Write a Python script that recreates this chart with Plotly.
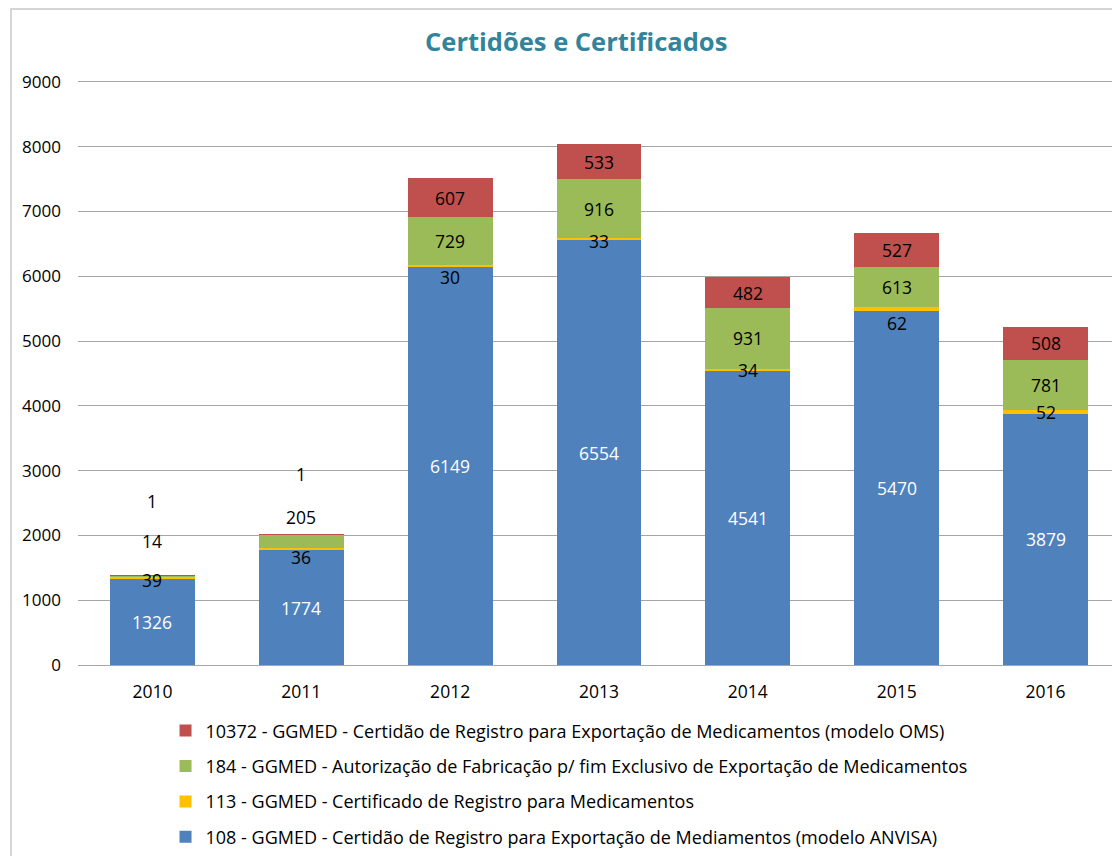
import plotly.graph_objects as go
import numpy as np

# Dados do gráfico
anos = ['2010', '2011', '2012', '2013', '2014', '2015', '2016']
anvisa_108 = [1326, 1774, 6149, 6554, 4541, 5470, 3879]
certificado_113 = [39, 36, 30, 33, 34, 62, 52]
autorizacao_184 = [14, 205, 729, 916, 931, 613, 781]
oms_10372 = [1, 1, 607, 533, 482, 527, 508]

nomes = [
    '108 - GGMED - Certidão de Registro para Exportação de Mediamentos (modelo ANVISA)',
    '113 - GGMED - Certificado de Registro para Medicamentos',
    '184 - GGMED - Autorização de Fabricação p/ fim Exclusivo de Exportação de Medicamentos',
    '10372 - GGMED - Certidão de Registro para Exportação de Medicamentos (modelo OMS)',
]
cores = ['#4F81BD', '#FFC000', '#9BBB59', '#C0504D']
cores_texto = ['white', 'black', 'black', 'black']
# deslocamento vertical (px) dos rótulos, como no original
deslocamentos = [
    [0, 0, 0, 0, 0, 0, 0],
    [-2, -8, -11, -2, 0, -14, 0],
    [35, 24, 0, 0, 0, 0, 0],
    [75, 60, 0, 0, 0, 0, 0],
]

series = [anvisa_108, certificado_113, autorizacao_184, oms_10372]
fonte = 'Open Sans'

fig = go.Figure()
base = np.zeros(len(anos))
anotacoes = []
for i, valores in enumerate(series):
    valores = np.array(valores)
    fig.add_trace(go.Bar(
        x=anos,
        y=valores,
        name=nomes[i],
        marker=dict(color=cores[i], line=dict(width=0)),
        legendgroup='g%d' % i,
        legendrank=len(series) - i,
        hoverinfo='skip'
    ))
    centros = base + valores / 2
    for j in range(len(anos)):
        # índice da categoria (um texto "2010" seria lido como número)
        anotacoes.append(dict(
            x=j, y=centros[j], text=str(valores[j]),
            showarrow=False, yshift=deslocamentos[i][j],
            font=dict(family=fonte, size=17.5, color=cores_texto[i])
        ))
    base = base + valores

# moldura cinza clara do gráfico
fig.add_shape(type='rect', xref='paper', yref='paper',
              x0=-0.0643, x1=1.2, y0=-0.6, y1=1.1215,
              line=dict(color='#C8C8C8', width=1.5), fillcolor='rgba(0,0,0,0)')

fig.update_layout(
    width=1112,
    height=848,
    barmode='stack',
    bargap=0.43,
    plot_bgcolor='white',
    paper_bgcolor='white',
    margin=dict(l=70, r=0, t=72, b=191, autoexpand=False),
    title=dict(
        text='<b>Certidões e Certificados</b>',
        x=0.511, xanchor='center', y=0.96, yanchor='middle',
        font=dict(family=fonte, size=25.5, color='#31849B')
    ),
    font=dict(family=fonte, size=16, color='black'),
    annotations=anotacoes,
    showlegend=True,
    legend=dict(
        orientation='v',
        x=0.084, xanchor='left',
        y=-0.081, yanchor='top',
        tracegroupgap=9,
        font=dict(family=fonte, size=18, color='black'),
        itemwidth=30
    ),
    xaxis=dict(
        type='category',
        range=[-0.5, len(anos) - 0.5],
        showgrid=False,
        showline=False,
        ticks='',
        ticklabelstandoff=14,
        tickfont=dict(size=17.5),
    ),
    yaxis=dict(
        range=[0, 9030],
        tickvals=[0, 1000, 2000, 3000, 4000, 5000, 6000, 7000, 8000, 9000],
        showgrid=True,
        gridcolor='#A6A6A6',
        gridwidth=1,
        zeroline=True,
        zerolinecolor='#A6A6A6',
        zerolinewidth=1,
        ticklabelstandoff=16,
        tickfont=dict(size=17)
    )
)

fig.write_html("out.html")
